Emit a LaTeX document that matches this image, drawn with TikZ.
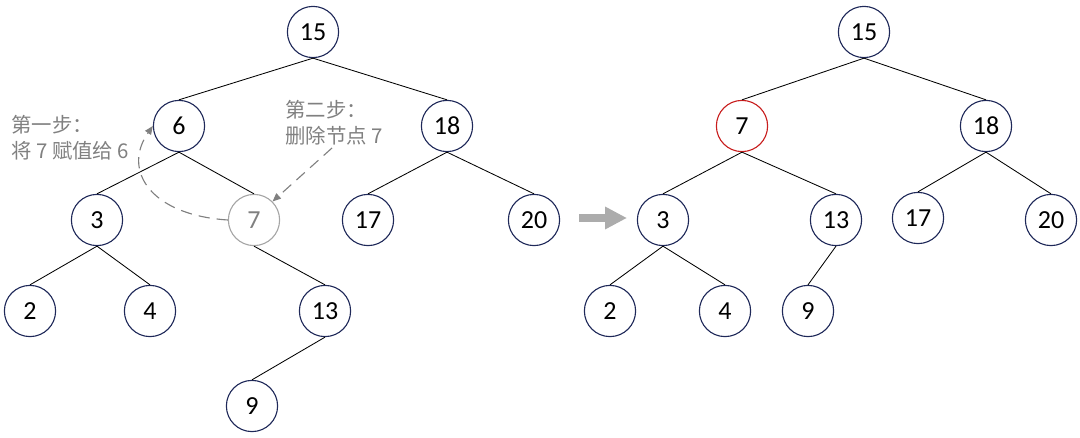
\documentclass[tikz,border=0pt]{standalone}
\usepackage{fontspec}
\setmainfont{Carlito}
\newfontfamily\cjk{Noto Sans CJK SC}
\usetikzlibrary{positioning, arrows.meta}
\definecolor{navy}{RGB}{31,41,89}
\definecolor{newred}{RGB}{200,30,30}
\definecolor{hintgray}{RGB}{128,128,128}

\begin{document}
\begin{tikzpicture}[x=0.025cm, y=-0.025cm,
    bstnode/.style={circle, draw=navy, line width=0.8pt, minimum size=1.28cm, inner sep=0pt, font=\fontsize{18.5}{20}\selectfont},
    oldnode/.style={bstnode, draw=gray!70, text=gray},
    newnode/.style={bstnode, draw=newred},
    link/.style={black, line width=0.6pt},
    steplabel/.style={text=hintgray, font=\cjk\fontsize{14.5}{18.5}\selectfont, align=left, anchor=north west, inner sep=0pt},
    hint/.style={hintgray, line width=0.8pt, dash pattern=on 8pt off 5pt, -{Triangle[length=6pt, width=5pt]}}
  ]
  \useasboundingbox (0,0) rectangle (1080,438);

  % before: delete 6
  \node[bstnode] (L15) at (313,32) {15};
  \node[bstnode] (L6)  at (179,126) {6};
  \node[bstnode] (L18) at (447,126) {18};
  \node[bstnode] (L3)  at (97,220) {3};
  \node[oldnode] (L7)  at (254,220) {7};
  \node[bstnode] (L17) at (368,220) {17};
  \node[bstnode] (L20) at (534,220) {20};
  \node[bstnode] (L2)  at (30,311) {2};
  \node[bstnode] (L4)  at (150,311) {4};
  \node[bstnode] (L13) at (325,311) {13};
  \node[bstnode] (L9)  at (252,406) {9};
  \foreach \p/\c in {L15/L6, L15/L18, L6/L3, L6/L7, L18/L17, L18/L20, L3/L2, L3/L4, L7/L13, L13/L9}
    \draw[link] (\p.south) -- (\c.north);

  \node[steplabel] (s1) at (11,115) {第一步：\\将 7 赋值给 6};
  \node[steplabel] (s2) at (285,100) {第二步：\\删除节点 7};
  \coordinate (h2) at (332,148);
  \draw[hint] (L7.west) .. controls (150,215) and (122,170) .. (L6.west);
  \draw[hint] (h2) -- (L7.north east);

  \coordinate (ga) at (579,218);
  \coordinate (gb) at (627,218);
  \draw[line width=5pt, gray!65, -{Triangle[length=15.5pt, width=15pt]}] (ga) -- (gb);

  % after
  \node[bstnode] (R15) at (864,32) {15};
  \node[newnode] (R7)  at (742,126) {7};
  \node[bstnode] (R18) at (986,126) {18};
  \node[bstnode] (R3)  at (663,220) {3};
  \node[bstnode] (R13) at (836,220) {13};
  \node[bstnode] (R17) at (918,218) {17};
  \node[bstnode] (R20) at (1051,220) {20};
  \node[bstnode] (R2)  at (610,311) {2};
  \node[bstnode] (R4)  at (725,311) {4};
  \node[bstnode] (R9)  at (808,311) {9};
  \foreach \p/\c in {R15/R7, R15/R18, R7/R3, R7/R13, R18/R17, R18/R20, R3/R2, R3/R4, R13/R9}
    \draw[link] (\p.south) -- (\c.north);
\end{tikzpicture}
\end{document}
